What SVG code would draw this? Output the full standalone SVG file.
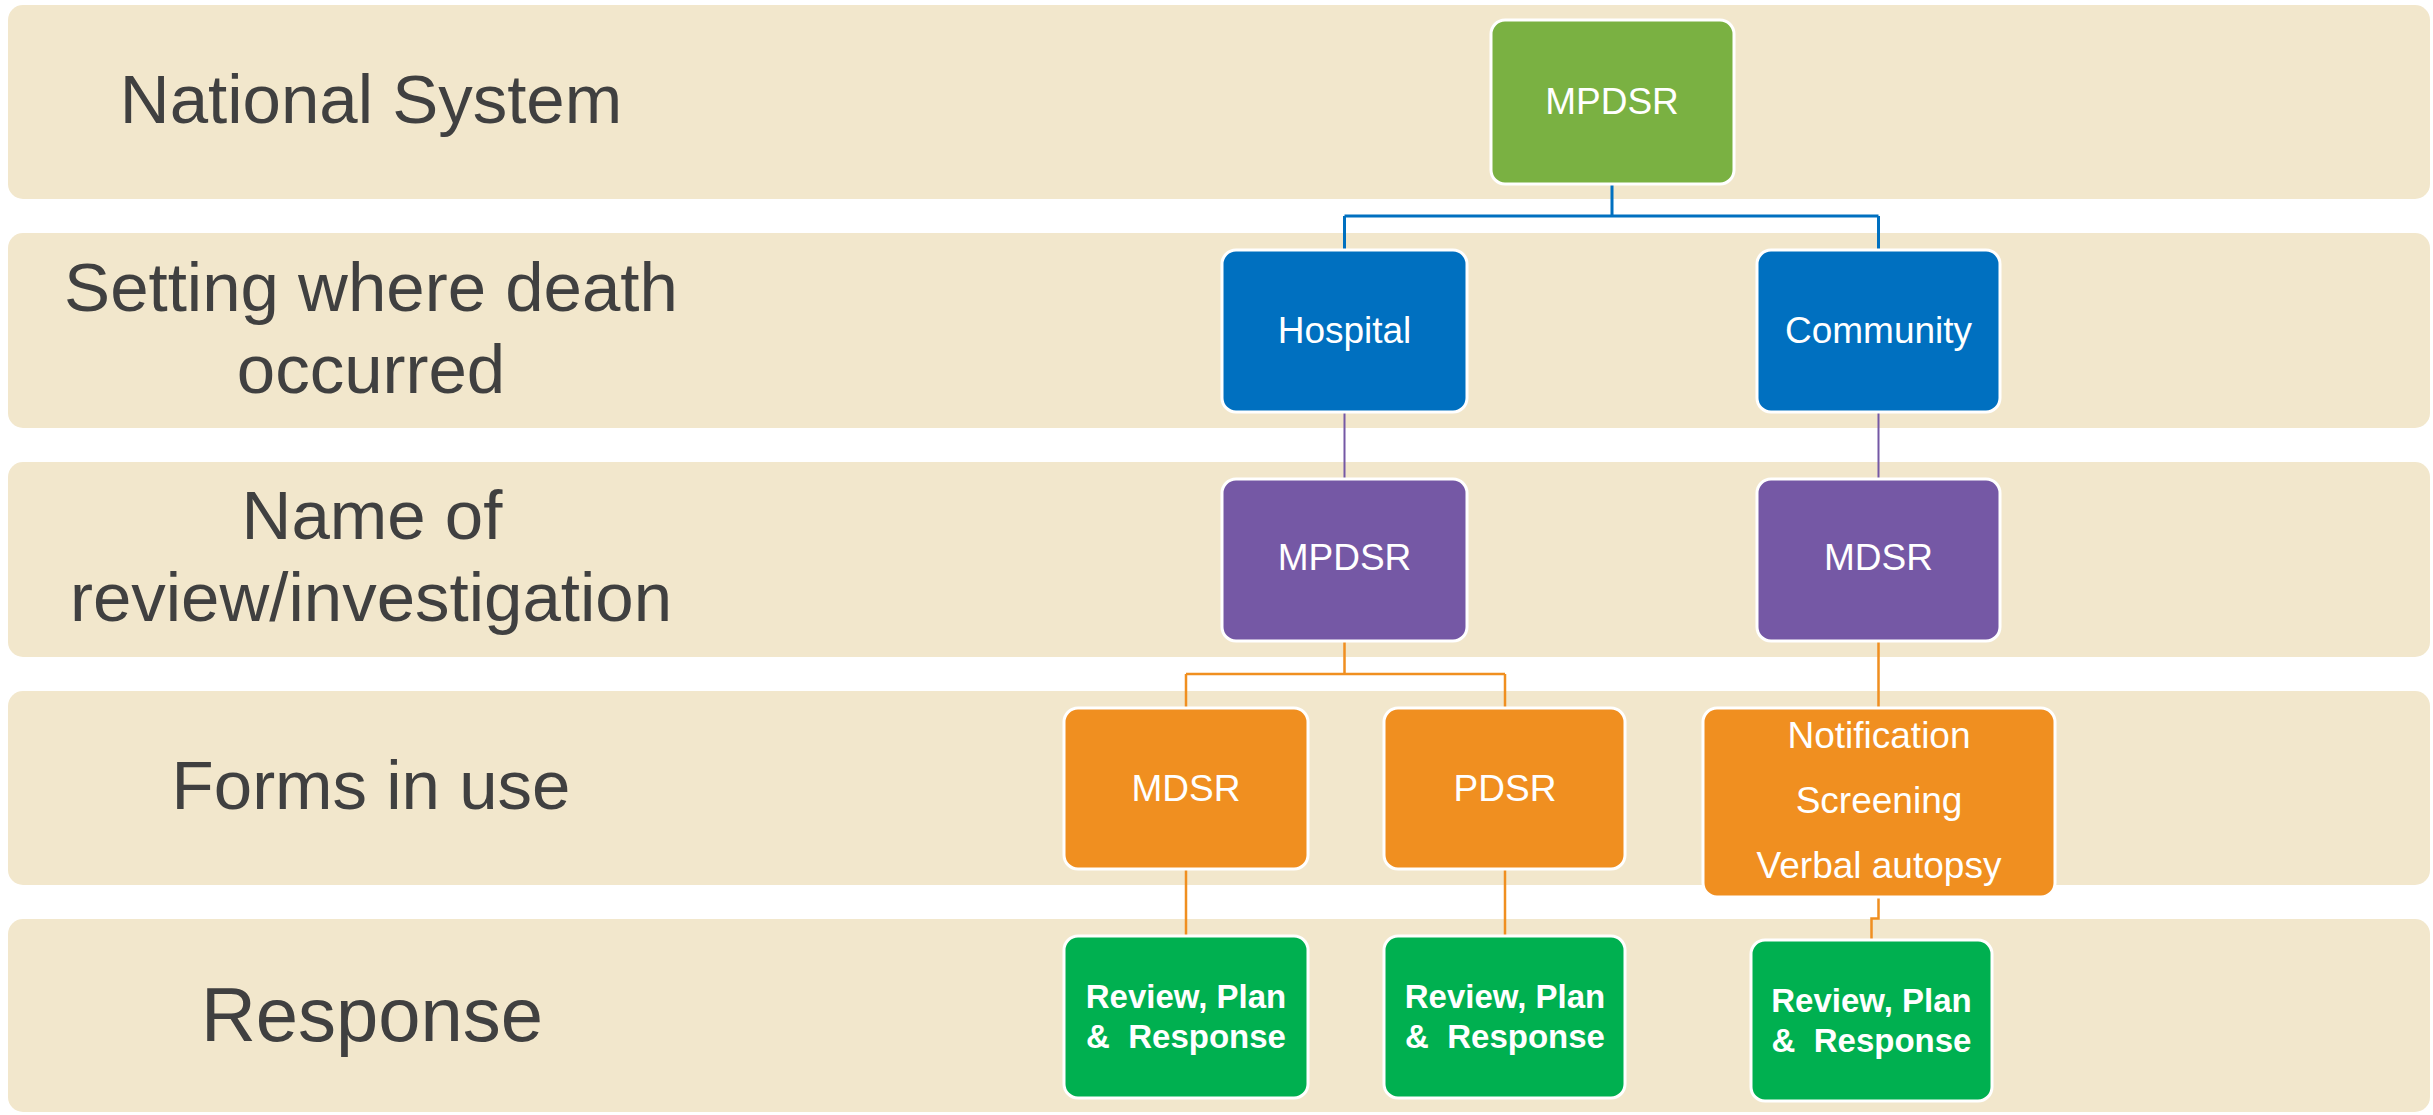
<svg xmlns="http://www.w3.org/2000/svg" width="2433" height="1115" viewBox="0 0 2433 1115">
<style>
.band{fill:#F2E7CC}
.lbl{font-family:"Liberation Sans",Arial,sans-serif;fill:#404040;text-anchor:middle;font-size:69px}
.node{stroke:#FFFFFF;stroke-width:3}
.nt{font-family:"Liberation Sans",Arial,sans-serif;fill:#FFFFFF;text-anchor:middle;font-size:37px}
.bt{font-family:"Liberation Sans",Arial,sans-serif;fill:#FFFFFF;text-anchor:middle;font-size:33px;font-weight:bold}
.c{fill:none}
</style>
<rect width="2433" height="1115" fill="#FFFFFF"/>
<g id="bands">
<rect class="band" x="8" y="5" width="2422" height="194" rx="15"/>
<rect class="band" x="8" y="233" width="2422" height="195" rx="15"/>
<rect class="band" x="8" y="462" width="2422" height="195" rx="15"/>
<rect class="band" x="8" y="691" width="2422" height="194" rx="15"/>
<rect class="band" x="8" y="919" width="2422" height="193" rx="15"/>
</g>
<g id="labels">
<text class="lbl" x="371" y="123">National System</text>
<text class="lbl" x="371" y="311">Setting where death</text>
<text class="lbl" x="371" y="393">occurred</text>
<text class="lbl" x="372" y="539">Name of</text>
<text class="lbl" x="371" y="621">review/investigation</text>
<text class="lbl" x="371" y="809">Forms in use</text>
<text class="lbl" x="372" y="1041" style="font-size:76px">Response</text>
</g>
<g id="connectors">
<path class="c" d="M1612 184 V216 M1344.5 216 H1878.5 M1344.5 216 V250 M1878.5 216 V250" stroke="#0070C0" stroke-width="3"/>
<path class="c" d="M1344.5 412 V479 M1878.5 412 V479" stroke="#7558A5" stroke-width="2"/>
<path class="c" d="M1344.5 641 V674 M1186 674 H1505 M1186 674 V708 M1505 674 V708 M1878.5 641 V708" stroke="#F08F20" stroke-width="2.5"/>
<path class="c" d="M1186 869 V936 M1505 869 V936 M1878.5 897 V918.5 H1871.5 V940" stroke="#F08F20" stroke-width="2.5"/>
</g>
<g id="n-national">
<rect class="node" x="1491" y="20" width="243" height="164" rx="14" fill="#7AB142"/>
<text class="nt" x="1612" y="114">MPDSR</text>
</g>
<g id="n-hospital">
<rect class="node" x="1222" y="250" width="245" height="162" rx="14" fill="#0070C0"/>
<text class="nt" x="1344.5" y="343">Hospital</text>
</g>
<g id="n-community">
<rect class="node" x="1757" y="250" width="243" height="162" rx="14" fill="#0070C0"/>
<text class="nt" x="1878.5" y="343">Community</text>
</g>
<g id="n-mpdsr">
<rect class="node" x="1222" y="479" width="245" height="162" rx="14" fill="#7558A5"/>
<text class="nt" x="1344.5" y="570">MPDSR</text>
</g>
<g id="n-mdsr">
<rect class="node" x="1757" y="479" width="243" height="162" rx="14" fill="#7558A5"/>
<text class="nt" x="1878.5" y="570">MDSR</text>
</g>
<g id="n-form-mdsr">
<rect class="node" x="1064" y="708" width="244" height="161" rx="14" fill="#F08F20"/>
<text class="nt" x="1186" y="801">MDSR</text>
</g>
<g id="n-form-pdsr">
<rect class="node" x="1384" y="708" width="241" height="161" rx="14" fill="#F08F20"/>
<text class="nt" x="1505" y="801">PDSR</text>
</g>
<g id="n-form-community">
<rect class="node" x="1703" y="708" width="352" height="189" rx="14" fill="#F08F20"/>
<text class="nt" x="1879" y="748">Notification</text>
<text class="nt" x="1879" y="813">Screening</text>
<text class="nt" x="1879" y="878">Verbal autopsy</text>
</g>
<g id="n-resp-1">
<rect class="node" x="1064" y="936" width="244" height="162" rx="14" fill="#00B050"/>
<text class="bt" x="1186" y="1008">Review, Plan</text>
<text class="bt" x="1186" y="1048" xml:space="preserve">&amp;  Response</text>
</g>
<g id="n-resp-2">
<rect class="node" x="1384" y="936" width="241" height="162" rx="14" fill="#00B050"/>
<text class="bt" x="1505" y="1008">Review, Plan</text>
<text class="bt" x="1505" y="1048" xml:space="preserve">&amp;  Response</text>
</g>
<g id="n-resp-3">
<rect class="node" x="1751" y="940" width="241" height="161" rx="14" fill="#00B050"/>
<text class="bt" x="1871.5" y="1012">Review, Plan</text>
<text class="bt" x="1871.5" y="1052" xml:space="preserve">&amp;  Response</text>
</g>
</svg>
